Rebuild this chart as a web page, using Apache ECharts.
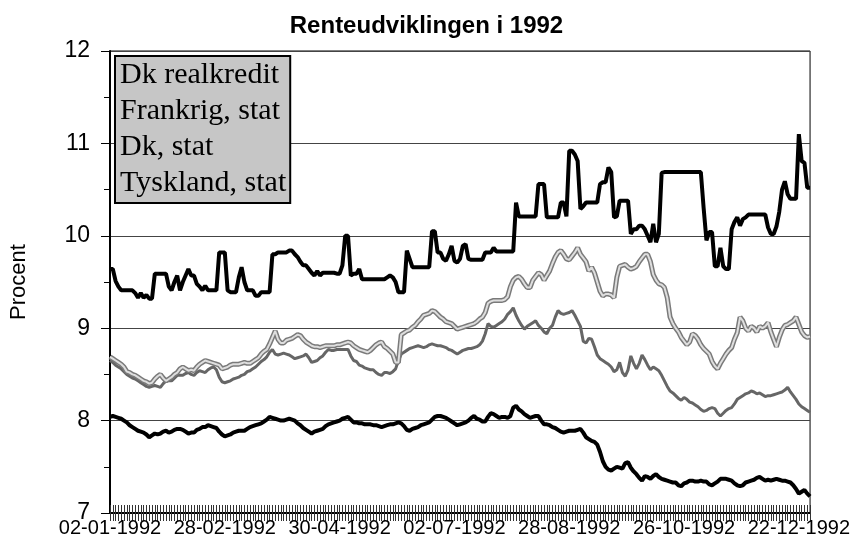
<!DOCTYPE html>
<html>
<head>
<meta charset="utf-8">
<title>Renteudviklingen i 1992</title>
<script src="https://cdn.jsdelivr.net/npm/echarts@6.0.0/dist/echarts.min.js"></script>
<style>
  html, body { margin: 0; padding: 0; background: #fff; }
  #chart { width: 853px; height: 538px; }
</style>
</head>
<body>
<div id="chart"></div>
<script>
// handelsdage 1992 (hverdage uden danske helligdage)
const firstDay = '1992-01-02'
const lastDay = '1992-12-30'
const holidays = ['1992-04-16', '1992-04-17', '1992-04-20', '1992-05-15', '1992-05-28',
  '1992-06-05', '1992-06-08', '1992-12-24', '1992-12-25']

const seriesNames = ['Dk realkredit', 'Frankrig, stat', 'Dk, stat', 'Tyskland, stat']
const yTicks = [7, 8, 9, 10, 11, 12]

const dkRealkredit = [
  9.64, 9.64, 9.51, 9.45, 9.41, 9.41, 9.41, 9.41, 9.41, 9.38,
  9.33, 9.38, 9.33, 9.36, 9.32, 9.32, 9.59, 9.59, 9.59, 9.59,
  9.59, 9.45, 9.41, 9.50, 9.57, 9.41, 9.50, 9.57, 9.64, 9.57,
  9.57, 9.48, 9.45, 9.41, 9.46, 9.41, 9.41, 9.41, 9.41, 9.82,
  9.82, 9.82, 9.41, 9.39, 9.39, 9.39, 9.55, 9.66, 9.50, 9.41,
  9.41, 9.41, 9.35, 9.35, 9.39, 9.39, 9.39, 9.39, 9.80, 9.80,
  9.82, 9.82, 9.82, 9.82, 9.84, 9.84, 9.80, 9.77, 9.72, 9.68,
  9.68, 9.64, 9.60, 9.57, 9.62, 9.57, 9.60, 9.60, 9.60, 9.60,
  9.60, 9.59, 9.59, 9.68, 10.00, 10.00, 9.57, 9.59, 9.59, 9.64,
  9.53, 9.53, 9.53, 9.53, 9.53, 9.53, 9.53, 9.53, 9.53, 9.55,
  9.57, 9.55, 9.50, 9.39, 9.39, 9.39, 9.84, 9.75, 9.66, 9.66,
  9.66, 9.66, 9.66, 9.66, 9.66, 10.05, 10.05, 9.82, 9.82, 9.75,
  9.73, 9.80, 9.89, 9.73, 9.71, 9.75, 9.89, 9.91, 9.75, 9.74,
  9.74, 9.74, 9.74, 9.74, 9.82, 9.82, 9.82, 9.87, 9.83, 9.83,
  9.83, 9.83, 9.83, 9.83, 9.83, 10.36, 10.21, 10.21, 10.21, 10.21,
  10.21, 10.21, 10.21, 10.56, 10.56, 10.56, 10.20, 10.20, 10.20, 10.20,
  10.20, 10.36, 10.36, 10.21, 10.92, 10.92, 10.88, 10.81, 10.29, 10.32,
  10.36, 10.36, 10.36, 10.36, 10.36, 10.56, 10.58, 10.58, 10.74, 10.69,
  10.20, 10.21, 10.38, 10.38, 10.38, 10.38, 10.02, 10.07, 10.07, 10.11,
  10.11, 10.07, 10.00, 9.93, 10.13, 9.93, 10.02, 10.68, 10.69, 10.69,
  10.69, 10.69, 10.69, 10.69, 10.69, 10.69, 10.69, 10.69, 10.69, 10.69,
  10.69, 10.69, 10.30, 9.95, 10.04, 10.04, 9.67, 9.67, 9.87, 9.67,
  9.64, 9.64, 10.07, 10.15, 10.20, 10.11, 10.18, 10.20, 10.23, 10.23,
  10.23, 10.23, 10.23, 10.23, 10.23, 10.09, 10.02, 10.02, 10.10, 10.26,
  10.50, 10.59, 10.45, 10.40, 10.40, 10.40, 11.10, 10.81, 10.79, 10.52,
  10.52
]

const frankrigStat = [
  8.65, 8.63, 8.60, 8.58, 8.56, 8.53, 8.50, 8.48, 8.46, 8.45,
  8.43, 8.41, 8.39, 8.37, 8.36, 8.37, 8.38, 8.37, 8.36, 8.40,
  8.43, 8.43, 8.43, 8.46, 8.49, 8.49, 8.49, 8.51, 8.52, 8.50,
  8.49, 8.52, 8.54, 8.53, 8.52, 8.55, 8.57, 8.58, 8.55, 8.47,
  8.42, 8.41, 8.42, 8.43, 8.45, 8.46, 8.47, 8.49, 8.50, 8.53,
  8.54, 8.56, 8.58, 8.61, 8.64, 8.66, 8.69, 8.74, 8.77, 8.72,
  8.71, 8.72, 8.73, 8.72, 8.71, 8.69, 8.67, 8.68, 8.69, 8.70,
  8.72, 8.68, 8.63, 8.64, 8.65, 8.68, 8.70, 8.74, 8.77, 8.76,
  8.76, 8.77, 8.77, 8.77, 8.77, 8.77, 8.70, 8.65, 8.64, 8.60,
  8.59, 8.57, 8.56, 8.55, 8.55, 8.52, 8.50, 8.49, 8.52, 8.52,
  8.51, 8.53, 8.56, 8.65, 8.72, 8.74, 8.76, 8.78, 8.79, 8.80,
  8.81, 8.80, 8.79, 8.80, 8.82, 8.83, 8.82, 8.81, 8.81, 8.80,
  8.79, 8.77, 8.76, 8.74, 8.72, 8.74, 8.76, 8.77, 8.78, 8.78,
  8.79, 8.80, 8.82, 8.86, 8.94, 9.05, 9.02, 9.01, 9.03, 9.05,
  9.07, 9.10, 9.15, 9.18, 9.22, 9.14, 9.08, 9.03, 8.99, 9.02,
  9.04, 9.06, 9.08, 9.03, 9.00, 8.96, 8.94, 9.00, 9.03, 9.12,
  9.19, 9.16, 9.15, 9.16, 9.17, 9.19, 9.14, 9.08, 9.02, 8.86,
  8.84, 8.89, 8.88, 8.80, 8.71, 8.67, 8.65, 8.63, 8.61, 8.58,
  8.53, 8.55, 8.63, 8.52, 8.48, 8.55, 8.70, 8.62, 8.56, 8.62,
  8.71, 8.66, 8.60, 8.55, 8.58, 8.56, 8.54, 8.49, 8.43, 8.37,
  8.32, 8.30, 8.27, 8.24, 8.22, 8.25, 8.23, 8.20, 8.19, 8.17,
  8.15, 8.12, 8.10, 8.11, 8.13, 8.14, 8.13, 8.08, 8.05, 8.08,
  8.11, 8.13, 8.14, 8.18, 8.23, 8.25, 8.27, 8.29, 8.30, 8.32,
  8.31, 8.29, 8.30, 8.28, 8.26, 8.27, 8.27, 8.28, 8.29, 8.30,
  8.31, 8.33, 8.36, 8.31, 8.27, 8.23, 8.18, 8.15, 8.13, 8.11,
  8.09
]

const dkStat = [
  8.69, 8.67, 8.65, 8.63, 8.61, 8.58, 8.53, 8.52, 8.50, 8.49,
  8.47, 8.45, 8.43, 8.42, 8.40, 8.41, 8.45, 8.48, 8.50, 8.46,
  8.43, 8.45, 8.47, 8.50, 8.52, 8.56, 8.58, 8.56, 8.54, 8.55,
  8.54, 8.58, 8.61, 8.63, 8.65, 8.64, 8.63, 8.62, 8.61, 8.60,
  8.56, 8.57, 8.58, 8.60, 8.61, 8.61, 8.61, 8.62, 8.63, 8.62,
  8.62, 8.64, 8.66, 8.68, 8.72, 8.75, 8.77, 8.83, 8.90, 8.97,
  8.88, 8.84, 8.84, 8.87, 8.88, 8.89, 8.91, 8.93, 8.92, 8.88,
  8.85, 8.83, 8.81, 8.80, 8.80, 8.79, 8.80, 8.81, 8.81, 8.81,
  8.81, 8.82, 8.82, 8.83, 8.84, 8.85, 8.84, 8.81, 8.79, 8.77,
  8.76, 8.75, 8.74, 8.76, 8.79, 8.82, 8.84, 8.85, 8.80, 8.78,
  8.75, 8.72, 8.63, 8.63, 8.93, 8.95, 8.97, 8.98, 9.01, 9.03,
  9.07, 9.10, 9.14, 9.15, 9.16, 9.19, 9.18, 9.15, 9.12, 9.10,
  9.07, 9.06, 9.05, 9.02, 8.99, 9.00, 9.01, 9.02, 9.03, 9.04,
  9.05, 9.07, 9.10, 9.12, 9.17, 9.27, 9.29, 9.30, 9.30, 9.30,
  9.30, 9.31, 9.34, 9.45, 9.52, 9.55, 9.56, 9.53, 9.48, 9.44,
  9.44, 9.52, 9.56, 9.60, 9.58, 9.52, 9.57, 9.62, 9.70, 9.77,
  9.82, 9.84, 9.80, 9.75, 9.74, 9.78, 9.82, 9.87, 9.80, 9.76,
  9.72, 9.62, 9.66, 9.60, 9.50, 9.40, 9.35, 9.37, 9.37, 9.36,
  9.33, 9.55, 9.67, 9.68, 9.69, 9.66, 9.64, 9.65, 9.67, 9.72,
  9.76, 9.80, 9.80, 9.72, 9.58, 9.52, 9.48, 9.47, 9.44, 9.33,
  9.12, 9.05, 9.00, 8.96, 8.90, 8.86, 8.82, 8.85, 8.94, 8.92,
  8.88, 8.82, 8.78, 8.75, 8.72, 8.64, 8.59, 8.56, 8.62, 8.67,
  8.72, 8.76, 8.79, 8.88, 8.95, 9.12, 9.08, 9.00, 8.97, 9.02,
  9.00, 8.96, 9.02, 9.00, 9.02, 9.06, 8.96, 8.88, 8.80, 8.90,
  8.98, 9.03, 9.04, 9.06, 9.08, 9.12, 9.04, 8.96, 8.92, 8.90,
  8.91
]

const tysklandStat = [
  8.04, 8.05, 8.04, 8.03, 8.02, 8.00, 7.98, 7.95, 7.93, 7.91,
  7.89, 7.88, 7.87, 7.85, 7.82, 7.84, 7.86, 7.85, 7.86, 7.88,
  7.89, 7.87, 7.88, 7.90, 7.91, 7.91, 7.90, 7.88, 7.86, 7.87,
  7.87, 7.90, 7.91, 7.93, 7.93, 7.95, 7.94, 7.93, 7.92, 7.88,
  7.85, 7.83, 7.84, 7.85, 7.87, 7.88, 7.89, 7.89, 7.89, 7.91,
  7.93, 7.94, 7.95, 7.96, 7.97, 7.99, 8.01, 8.04, 8.03, 8.02,
  8.01, 8.00, 8.00, 8.01, 8.02, 8.01, 8.00, 7.97, 7.95, 7.92,
  7.90, 7.88, 7.86, 7.88, 7.89, 7.90, 7.91, 7.94, 7.96, 7.97,
  7.98, 7.99, 8.00, 8.02, 8.03, 8.04, 8.01, 7.98, 7.98, 7.97,
  7.97, 7.96, 7.96, 7.96, 7.95, 7.95, 7.94, 7.93, 7.94, 7.95,
  7.96, 7.96, 7.97, 7.98, 7.97, 7.94, 7.90, 7.89, 7.91, 7.92,
  7.93, 7.95, 7.96, 7.97, 7.98, 8.01, 8.04, 8.05, 8.05, 8.04,
  8.03, 8.01, 7.99, 7.97, 7.95, 7.96, 7.97, 7.98, 8.00, 8.03,
  8.05, 8.02, 8.01, 7.99, 7.99, 8.04, 8.08, 8.07, 8.05, 8.03,
  8.04, 8.04, 8.03, 8.05, 8.14, 8.16, 8.12, 8.10, 8.07, 8.05,
  8.03, 8.04, 8.05, 8.05, 8.00, 7.96, 7.96, 7.95, 7.93, 7.92,
  7.90, 7.88, 7.87, 7.88, 7.89, 7.89, 7.89, 7.90, 7.91, 7.87,
  7.82, 7.80, 7.78, 7.77, 7.74, 7.66, 7.56, 7.50, 7.47, 7.46,
  7.48, 7.50, 7.49, 7.48, 7.54, 7.55, 7.49, 7.45, 7.42, 7.38,
  7.35, 7.40, 7.39, 7.37, 7.40, 7.42, 7.39, 7.37, 7.36, 7.35,
  7.34, 7.33, 7.33, 7.30, 7.29, 7.32, 7.33, 7.35, 7.35, 7.34,
  7.34, 7.35, 7.34, 7.34, 7.31, 7.30, 7.32, 7.34, 7.37, 7.37,
  7.37, 7.36, 7.35, 7.32, 7.30, 7.29, 7.30, 7.33, 7.34, 7.35,
  7.36, 7.38, 7.39, 7.37, 7.35, 7.36, 7.35, 7.36, 7.37, 7.36,
  7.35, 7.35, 7.34, 7.33, 7.30, 7.26, 7.21, 7.23, 7.25, 7.21,
  7.18
]

function pad (n) {
  return n < 10 ? '0' + n : '' + n
}

function tradingDays () {
  const days = []
  const d = new Date(firstDay + 'T12:00:00Z')
  const end = new Date(lastDay + 'T12:00:00Z')
  while (d <= end) {
    const iso = d.toISOString().slice(0, 10)
    const wd = d.getUTCDay()
    if (wd !== 0 && wd !== 6 && holidays.indexOf(iso) < 0) {
      days.push(pad(d.getUTCDate()) + '-' + pad(d.getUTCMonth() + 1) + '-' + d.getUTCFullYear())
    }
    d.setUTCDate(d.getUTCDate() + 1)
  }
  return days
}

const dates = tradingDays()
const sans = 'Liberation Sans, Arial, sans-serif'

const chart = echarts.init(document.getElementById('chart'))
const option = {
  animation: false,
  backgroundColor: '#fff',
  title: {
    text: 'Renteudviklingen i 1992',
    left: 'center',
    top: 9,
    textStyle: { fontFamily: sans, fontSize: 24, fontWeight: 'bold', color: '#000' }
  },
  legend: {
    data: seriesNames,
    orient: 'vertical',
    left: 115,
    top: 56,
    padding: [3, 4, 4, 0],
    itemGap: 4,
    itemWidth: 0,
    itemHeight: 0,
    icon: 'rect',
    selectedMode: false,
    backgroundColor: '#c6c6c6',
    borderColor: '#000',
    borderWidth: 2,
    textStyle: {
      fontFamily: 'Liberation Serif, Times New Roman, serif',
      fontSize: 30,
      lineHeight: 32,
      color: '#000'
    }
  },
  grid: {
    left: 110,
    right: 39,
    top: 51,
    bottom: 25,
    show: true,
    borderColor: '#000',
    borderWidth: 1
  },
  xAxis: [
    {
      type: 'category',
      data: dates,
      boundaryGap: false,
      axisLine: { lineStyle: { color: '#000', width: 2 } },
      axisTick: { interval: 0, length: 8, lineStyle: { color: '#333' } },
      axisLabel: {
        interval: 40,
        margin: 5,
        color: '#000',
        fontFamily: sans,
        fontSize: 20
      },
      splitLine: { show: false }
    },
    {
      type: 'category',
      data: dates,
      boundaryGap: false,
      position: 'bottom',
      axisLine: { show: false },
      axisTick: { interval: 0, inside: true, length: 8, lineStyle: { color: '#333' } },
      axisLabel: { show: false },
      splitLine: { show: false }
    }
  ],
  yAxis: {
    type: 'value',
    min: yTicks[0],
    max: yTicks[yTicks.length - 1],
    interval: 1,
    name: 'Procent',
    nameLocation: 'middle',
    nameGap: 80,
    nameTextStyle: { fontFamily: sans, fontSize: 22, color: '#000' },
    axisLine: { show: true, lineStyle: { color: '#000', width: 2 } },
    axisTick: { show: true, length: 9, lineStyle: { color: '#000' } },
    minorTick: { show: true, splitNumber: 2, length: 6, lineStyle: { color: '#000' } },
    axisLabel: { margin: 20, color: '#000', fontFamily: sans, fontSize: 23 },
    splitLine: { lineStyle: { color: '#444', width: 1 } }
  },
  series: [
    {
      name: 'Dk realkredit',
      type: 'line',
      data: dkRealkredit,
      symbol: 'none',
      lineStyle: { color: '#000', width: 4 }
    },
    {
      name: 'Frankrig, stat',
      type: 'line',
      data: frankrigStat,
      symbol: 'none',
      lineStyle: { color: '#666', width: 3 }
    },
    {
      name: 'Dk, stat kant',
      type: 'line',
      data: dkStat,
      symbol: 'none',
      lineStyle: { color: '#7a7a7a', width: 5 }
    },
    {
      name: 'Dk, stat',
      type: 'line',
      data: dkStat,
      symbol: 'none',
      lineStyle: { color: '#dedede', width: 2 }
    },
    {
      name: 'Tyskland, stat',
      type: 'line',
      data: tysklandStat,
      symbol: 'none',
      lineStyle: { color: '#000', width: 4 }
    }
  ]
}
chart.setOption(option)
</script>
</body>
</html>
